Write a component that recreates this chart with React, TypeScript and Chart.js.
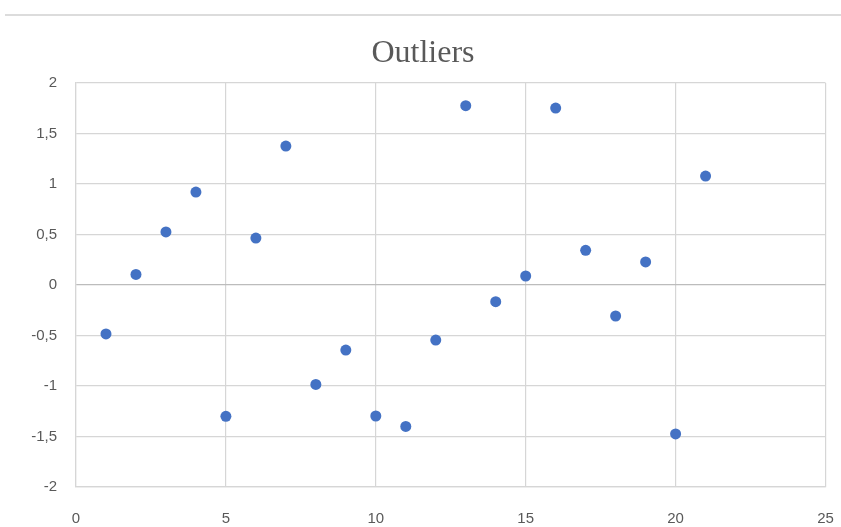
import React, { useEffect, useRef } from "react";
import { Chart, registerables } from "chart.js";

Chart.register(...registerables);

const chartTitle = "Outliers";
const xValues = [1, 2, 3, 4, 5, 6, 7, 8, 9, 10, 11, 12, 13, 14, 15, 16, 17, 18, 19, 20, 21];
const yValues = [
  -0.485, 0.105, 0.525, 0.92, -1.3, 0.465, 1.376, -0.984, -0.644, -1.297, -1.4,
  -0.545, 1.775, -0.165, 0.089, 1.752, 0.343, -0.307, 0.228, -1.475, 1.079,
];
const xTickValues = [0, 5, 10, 15, 20, 25];
const yTickValues = [-2, -1.5, -1, -0.5, 0, 0.5, 1, 1.5, 2];

const fmt = (v: number) => String(v).replace(".", ",");

export default function App() {
  const ref = useRef<HTMLCanvasElement | null>(null);

  useEffect(() => {
    if (!ref.current) return;
    const titlePlugin = {
      id: "customTitle",
      afterDraw(chart: any) {
        const ctx = chart.ctx;
        ctx.save();
        ctx.fillStyle = "#595959";
        ctx.font = '32px "Liberation Serif", "Times New Roman", serif';
        ctx.textAlign = "center";
        ctx.textBaseline = "alphabetic";
        ctx.fillText(chartTitle, 423, 62);
        ctx.restore();
      },
    };
    const chart = new Chart(ref.current, {
      type: "scatter",
      data: {
        datasets: [
          {
            label: chartTitle,
            data: xValues.map((x, i) => ({ x, y: yValues[i] })),
            backgroundColor: "#4472C4",
            borderColor: "#4472C4",
            borderWidth: 0,
            pointRadius: 5.5,
            pointHoverRadius: 5.5,
          },
        ],
      },
      options: {
        responsive: false,
        animation: false,
        layout: { padding: { top: 83, right: 15.5, left: 0, bottom: 0 } },
        plugins: {
          legend: { display: false },
          title: { display: false },
          tooltip: { enabled: false },
        },
        scales: {
          x: {
            type: "linear",
            min: 0,
            max: 25,
            afterBuildTicks: (scale: any) => {
              scale.ticks = xTickValues.map((v) => ({ value: v }));
            },
            afterFit: (scale: any) => {
              scale.height = 40;
              scale.paddingRight = 0;
              scale.paddingLeft = 0;
            },
            ticks: {
              color: "#595959",
              font: { family: '"Liberation Sans", Arial, sans-serif', size: 15 },
              padding: 23,
              callback: (v: any) => fmt(Number(v)),
              maxRotation: 0,
            },
            grid: { color: "#d6d6d6", lineWidth: 1.2, drawTicks: false },
            border: { color: "#d6d6d6", width: 1.2 },
          },
          y: {
            type: "linear",
            min: -2,
            max: 2,
            afterBuildTicks: (scale: any) => {
              scale.ticks = yTickValues.map((v) => ({ value: v }));
            },
            afterFit: (scale: any) => {
              scale.width = 76;
              scale.paddingTop = 0;
              scale.paddingBottom = 0;
            },
            ticks: {
              color: "#595959",
              font: { family: '"Liberation Sans", Arial, sans-serif', size: 15 },
              padding: 19,
              callback: (v: any) => fmt(Number(v)),
            },
            grid: {
              color: (c: any) => (c.tick && c.tick.value === 0 ? "#bcbcbc" : "#d6d6d6"),
              lineWidth: 1.2,
              drawTicks: false,
            },
            border: { color: "#d6d6d6", width: 1.2 },
          },
        },
      },
      plugins: [titlePlugin],
    });
    return () => chart.destroy();
  }, []);

  return (
    <div style={{ position: "absolute", left: 0, top: 0, width: 841, height: 527, background: "#fff" }}>
      <div style={{ position: "absolute", left: 5, top: 14, width: 836, height: 2, background: "#dcdcdc" }} />
      <canvas ref={ref} width={841} height={527} style={{ position: "absolute", left: 0, top: 0 }} />
    </div>
  );
}
